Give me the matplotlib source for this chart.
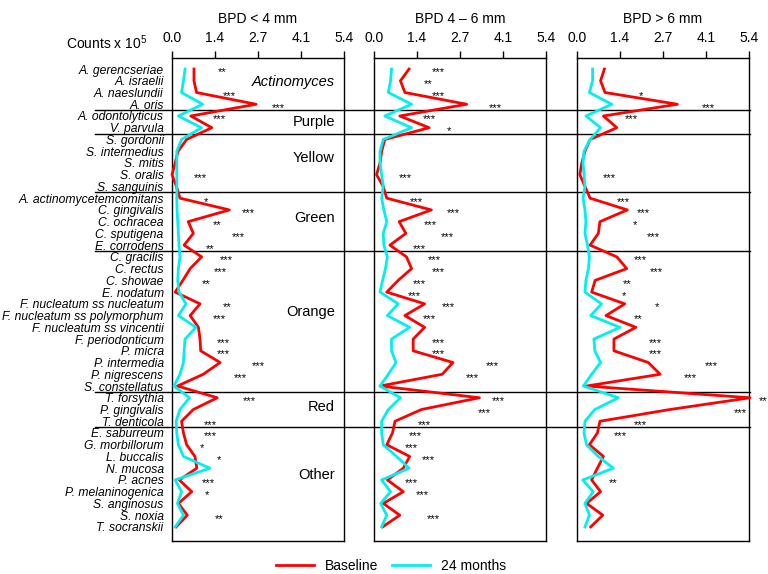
import matplotlib
matplotlib.use("Agg")
import matplotlib.pyplot as plt
from matplotlib.lines import Line2D
from matplotlib.transforms import blended_transform_factory

plt.rcParams['font.family'] = ['Liberation Sans', 'DejaVu Sans']
plt.rcParams['mathtext.default'] = 'regular'

species = ["A. gerencseriae", "A. israelii", "A. naeslundii", "A. oris",
           "A. odontolyticus", "V. parvula",
           "S. gordonii", "S. intermedius", "S. mitis", "S. oralis", "S. sanguinis",
           "A. actinomycetemcomitans", "C. gingivalis", "C. ochracea", "C. sputigena", "E. corrodens",
           "C. gracilis", "C. rectus", "C. showae", "E. nodatum", "F. nucleatum ss nucleatum",
           "F. nucleatum ss polymorphum", "F. nucleatum ss vincentii", "F. periodonticum",
           "P. micra", "P. intermedia", "P. nigrescens", "S. constellatus",
           "T. forsythia", "P. gingivalis", "T. denticola",
           "E. saburreum", "G. morbillorum", "L. buccalis", "N. mucosa", "P. acnes",
           "P. melaninogenica", "S. anginosus", "S. noxia", "T. socranskii"]

groups = ["Actinomyces", "Purple", "Yellow", "Green", "Orange", "Red", "Other"]
group_sizes = [4, 2, 5, 5, 12, 3, 9]
group_label_rows = [1.1, 4.5, 7.6, 12.7, 20.7, 28.8, 34.6]

panel_titles = ["BPD < 4 mm", "BPD 4 \u2013 6 mm", "BPD > 6 mm"]
tick_values = [0.0, 1.35, 2.7, 4.05, 5.4]
tick_labels = ["0.0", "1.4", "2.7", "4.1", "5.4"]

baseline_1 = [0.69, 0.69, 0.77, 2.64, 0.59, 1.25, 0.46, 0.19, 0.10, 0.00,
              0.14, 0.25, 1.80, 0.51, 0.67, 0.38, 0.93, 0.57, 0.34, 0.10,
              0.88, 0.57, 0.83, 0.88, 0.90, 1.51, 0.98, 0.17, 1.42, 0.67,
              0.30, 0.36, 0.46, 0.72, 0.78, 0.23, 0.62, 0.20, 0.48, 0.13]
month24_1 = [0.41, 0.36, 0.30, 0.96, 0.20, 0.93, 0.30, 0.15, 0.15, 0.15,
             0.15, 0.15, 0.16, 0.18, 0.20, 0.22, 0.25, 0.20, 0.18, 0.22,
             0.44, 0.20, 0.75, 0.41, 0.38, 0.36, 0.25, 0.06, 0.55, 0.25,
             0.13, 0.15, 0.20, 0.36, 1.19, 0.10, 0.30, 0.17, 0.36, 0.10]

baseline_2 = [1.10, 0.83, 0.97, 2.91, 0.81, 1.73, 0.34, 0.24, 0.19, 0.08,
              0.29, 0.40, 1.80, 0.79, 1.00, 0.50, 1.02, 1.18, 0.76, 0.40,
              1.59, 0.97, 1.59, 1.23, 1.23, 2.48, 2.14, 0.19, 3.31, 1.49,
              0.66, 0.58, 0.40, 1.12, 0.92, 0.42, 0.92, 0.29, 0.81, 0.27]
month24_2 = [0.55, 0.52, 0.45, 1.18, 0.34, 1.18, 0.29, 0.19, 0.19, 0.24,
             0.29, 0.24, 0.31, 0.40, 0.29, 0.31, 0.42, 0.36, 0.27, 0.19,
             0.76, 0.42, 1.12, 0.55, 0.55, 0.69, 0.45, 0.19, 0.83, 0.45,
             0.24, 0.24, 0.29, 0.71, 1.10, 0.24, 0.52, 0.21, 0.40, 0.24]

baseline_3 = [0.86, 0.74, 0.88, 3.15, 0.83, 1.25, 0.41, 0.25, 0.15, 0.09,
              0.25, 0.41, 1.58, 0.72, 0.67, 0.41, 1.25, 1.56, 0.57, 0.46,
              1.50, 0.91, 1.85, 1.16, 1.16, 2.24, 2.61, 0.30, 5.43, 2.92,
              0.72, 0.64, 0.39, 0.83, 0.64, 0.46, 0.74, 0.30, 0.81, 0.43]
month24_3 = [0.49, 0.49, 0.39, 1.09, 0.28, 0.74, 0.41, 0.22, 0.19, 0.22,
             0.25, 0.19, 0.25, 0.28, 0.25, 0.33, 0.39, 0.36, 0.28, 0.25,
             0.77, 0.43, 1.35, 0.53, 0.56, 0.74, 0.46, 0.20, 1.30, 0.56,
             0.25, 0.22, 0.30, 0.67, 1.14, 0.18, 0.51, 0.25, 0.39, 0.25]

# significance marks: (row, text, x position)
sig_1 = [(0, "**", 1.56), (2, "***", 1.80), (3, "***", 3.34), (4, "***", 1.49),
         (9, "***", 0.88), (11, "*", 1.07), (12, "***", 2.40), (13, "**", 1.43),
         (14, "***", 2.08), (15, "**", 1.19), (16, "***", 1.72), (17, "***", 1.51),
         (18, "**", 1.07), (20, "**", 1.72), (21, "***", 1.49), (23, "***", 1.61),
         (24, "***", 1.61), (25, "***", 2.71), (26, "***", 2.14), (28, "***", 2.43),
         (30, "***", 1.19), (31, "***", 1.19), (32, "*", 0.93), (33, "*", 1.49),
         (35, "***", 1.14), (36, "*", 1.11), (38, "**", 1.49)]
sig_2 = [(0, "***", 2.01), (1, "**", 1.70), (2, "***", 2.01), (3, "***", 3.80),
         (4, "***", 1.75), (5, "*", 2.34), (9, "***", 0.97), (11, "***", 1.33),
         (12, "***", 2.48), (13, "***", 1.78), (14, "***", 2.29), (15, "***", 1.41),
         (16, "***", 1.90), (17, "***", 2.01), (18, "***", 1.41), (19, "***", 1.28),
         (20, "***", 2.32), (21, "***", 1.75), (23, "***", 2.01), (24, "***", 2.01),
         (25, "***", 3.70), (26, "***", 3.08), (28, "***", 3.91), (29, "***", 3.46),
         (30, "***", 1.59), (31, "***", 1.30), (32, "***", 1.18), (33, "***", 1.72),
         (35, "***", 1.18), (36, "***", 1.52), (38, "***", 1.85)]
sig_3 = [(2, "*", 2.01), (3, "***", 4.12), (4, "***", 1.71), (9, "***", 1.01),
         (11, "***", 1.45), (12, "***", 2.08), (13, "*", 1.82), (14, "***", 2.40),
         (16, "***", 2.00), (17, "***", 2.48), (18, "**", 1.58), (19, "*", 1.49),
         (20, "*", 2.52), (21, "**", 1.93), (23, "***", 2.45), (24, "***", 2.45),
         (25, "***", 4.23), (26, "***", 3.57), (28, "**", 5.83), (29, "***", 5.12),
         (30, "***", 2.00), (31, "***", 1.35), (35, "**", 1.14)]

baselines = [baseline_1, baseline_2, baseline_3]
months24 = [month24_1, month24_2, month24_3]
sigs = [sig_1, sig_2, sig_3]

RED = "#ff0000"
CYAN = "#00f0f0"

W, H = 768, 574
fig = plt.figure(figsize=(W / 100, H / 100), dpi=100)

lefts = [172, 374, 577]
pw = 172
top_px, bot_px = 58, 541
rows = list(range(len(species)))

axes = []
for i in range(3):
    ax = fig.add_axes([lefts[i] / W, 1 - bot_px / H, pw / W, (bot_px - top_px) / H])
    ax.patch.set_visible(False)
    ax.set_xlim(0, 5.4)
    ax.set_ylim(40.2, -0.94)
    ax.plot(baselines[i], rows, color=RED, lw=2.0, clip_on=False, zorder=3)
    ax.plot(months24[i], rows, color=CYAN, lw=2.0, clip_on=False, zorder=4)
    for r, txt, xv in sigs[i]:
        ax.text(xv, r + 0.3, txt, ha="center", va="center", fontsize=8,
                clip_on=False, zorder=5)
    ax.xaxis.tick_top()
    ax.set_xticks(tick_values)
    ax.set_xticklabels(tick_labels, fontsize=10)
    ax.tick_params(axis="x", direction="out", length=5, width=1, pad=4)
    for sp in ax.spines.values():
        sp.set_linewidth(1.0)
    if i == 0:
        ax.set_yticks(rows)
        ax.set_yticklabels(species, fontsize=8.7, fontstyle="italic")
        ax.tick_params(axis="y", length=0, pad=6)
    else:
        ax.set_yticks([])
    fig.text((lefts[i] + pw / 2) / W, 1 - 19 / H, panel_titles[i],
             ha="center", va="center", fontsize=10)
    axes.append(ax)

ax1 = axes[0]
# group separators spanning all panels
trans = blended_transform_factory(ax1.transAxes, ax1.transData)
x_start = (95 - 172) / pw
x_end = (750 - 172) / pw
cum = 0
for n in group_sizes[:-1]:
    cum += n
    ax1.add_line(Line2D([x_start, x_end], [cum - 0.5, cum - 0.5], transform=trans,
                        color="black", lw=1.0, clip_on=False, zorder=2))

# group labels
for g, yr in zip(groups, group_label_rows):
    ax1.text(5.12, yr, g, ha="right", va="center", fontsize=10.5,
             fontstyle="italic" if g == "Actinomyces" else "normal", zorder=5)

fig.text(147 / W, 1 - 43 / H, "Counts x 10$^5$", ha="right", va="center", fontsize=10)

handles = [Line2D([], [], color=RED, lw=2.0), Line2D([], [], color=CYAN, lw=2.0)]
fig.legend(handles, ["Baseline", "24 months"], loc="center",
           bbox_to_anchor=(391 / W, 1 - 566 / H), ncol=2, frameon=False,
           fontsize=10, handlelength=2.7, handletextpad=0.8, columnspacing=1.0)

fig.savefig("out.png", dpi=100)
